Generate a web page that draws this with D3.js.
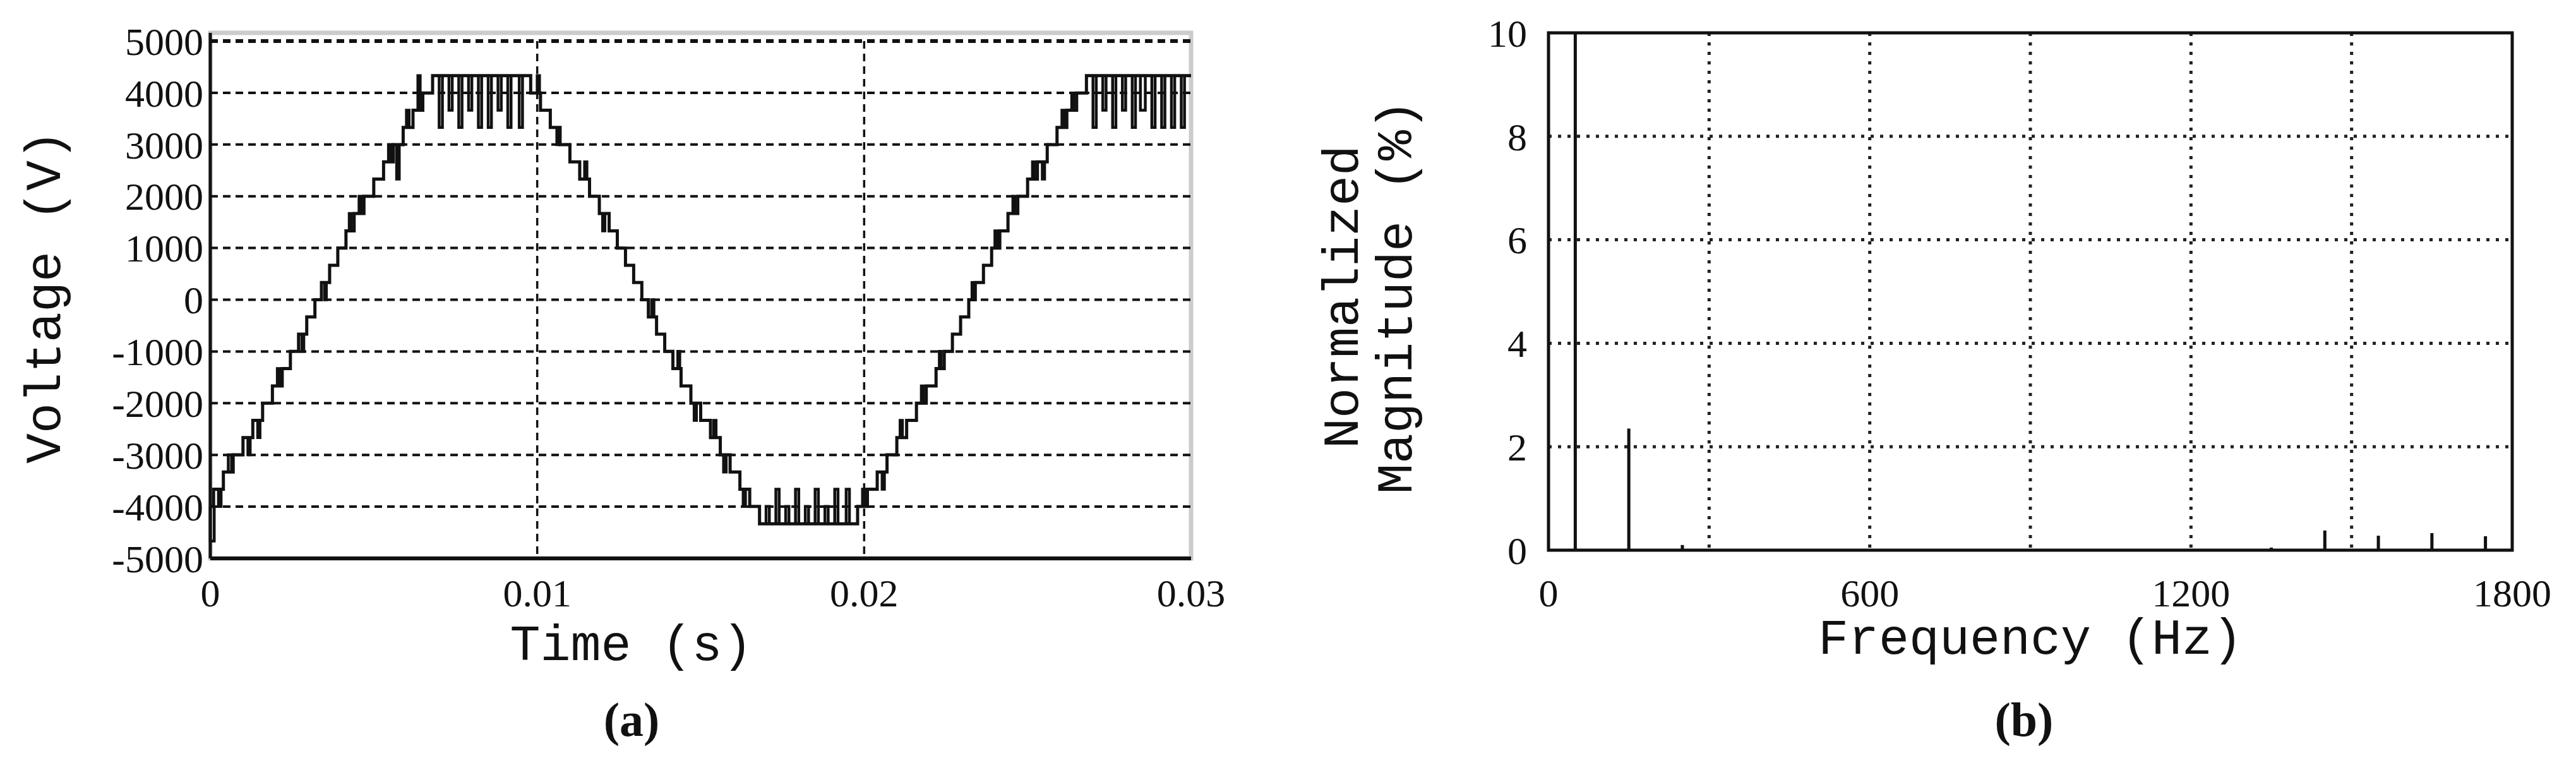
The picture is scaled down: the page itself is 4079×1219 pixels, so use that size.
<!DOCTYPE html>
<html>
<head>
<meta charset="utf-8">
<script src="https://d3js.org/d3.v7.min.js"></script>
<style>
  html, body { margin: 0; padding: 0; background: #fff; }
  svg { display: block; }
  text { fill: #111; }
  .tick-lbl { font: 62px "Liberation Serif", serif; }
  .axis-title { font: 80px "Liberation Mono", monospace; }
  .panel-lbl { font: bold 76px "Liberation Serif", serif; }
</style>
</head>
<body>
<svg width="4079" height="1219"></svg>
<script>
// ---- panel (a): staircase voltage, [time ms, level index]; one level ~ 333 V
const levelStep = 4330 / 13;
const stairs = [
  [0, -12], [0.1, -11], [0.4, -10], [0.7, -9], [1.0, -8], [1.3, -7], [1.6, -6], [1.9, -5],
  [2.2, -4], [2.45, -3], [2.7, -2], [2.95, -1], [3.2, 0], [3.4, 1], [3.65, 2], [3.9, 3],
  [4.15, 4], [4.4, 5], [4.7, 6], [5.0, 7], [5.3, 8], [5.6, 9], [5.9, 10], [6.2, 11],
  [6.5, 12], [6.8, 13],
  [9.8, 12], [10.1, 11], [10.4, 10], [10.7, 9], [11.0, 8], [11.3, 7], [11.6, 6], [11.9, 5],
  [12.2, 4], [12.45, 3], [12.7, 2], [12.95, 1], [13.2, 0], [13.4, -1], [13.65, -2], [13.9, -3],
  [14.15, -4], [14.4, -5], [14.7, -6], [15.0, -7], [15.3, -8], [15.6, -9], [15.9, -10], [16.2, -11],
  [16.5, -12], [16.8, -13],
  [19.8, -12], [20.1, -11], [20.4, -10], [20.7, -9], [21.0, -8], [21.3, -7], [21.6, -6], [21.9, -5],
  [22.2, -4], [22.45, -3], [22.7, -2], [22.95, -1], [23.2, 0], [23.4, 1], [23.65, 2], [23.9, 3],
  [24.15, 4], [24.4, 5], [24.7, 6], [25.0, 7], [25.3, 8], [25.6, 9], [25.9, 10], [26.2, 11],
  [26.5, 12], [26.8, 13], [30, 13]
];
// switching pulses: [start ms, end ms, base level, pulse level]
const pulses = [
  [0.0, 0.12, -12, -14], [0.25, 0.33, -11, -12], [0.55, 0.65, -10, -9], [1.15, 1.22, -8, -9],
  [1.45, 1.52, -7, -8], [2.05, 2.12, -5, -4], [2.8, 2.86, -2, -3], [3.5, 3.55, 1, 0],
  [4.25, 4.32, 4, 5], [4.55, 4.62, 5, 6], [5.45, 5.52, 8, 9], [5.7, 5.78, 9, 7],
  [6.0, 6.08, 10, 11], [6.35, 6.42, 11, 13],
  [7.0, 7.1, 13, 10], [7.3, 7.4, 13, 11], [7.6, 7.7, 13, 10], [7.9, 8.0, 13, 11], [8.2, 8.3, 13, 10],
  [8.5, 8.6, 13, 10], [8.8, 8.9, 13, 11], [9.1, 9.2, 13, 10], [9.45, 9.55, 13, 10],
  [10.0, 10.07, 12, 13], [10.6, 10.66, 10, 9], [11.45, 11.52, 7, 8], [12.0, 12.07, 5, 4],
  [13.5, 13.57, -1, 0], [14.3, 14.36, -4, -3], [14.8, 14.87, -6, -7], [15.4, 15.47, -8, -7],
  [15.7, 15.78, -9, -10], [16.3, 16.37, -11, -12],
  [17.0, 17.1, -13, -12], [17.3, 17.4, -13, -11], [17.6, 17.7, -13, -12], [17.9, 18.0, -13, -11],
  [18.2, 18.3, -13, -12], [18.5, 18.6, -13, -11], [18.8, 18.9, -13, -12], [19.1, 19.2, -13, -11],
  [19.45, 19.55, -13, -11],
  [19.95, 20.02, -12, -11], [20.55, 20.62, -10, -11], [21.1, 21.17, -8, -7], [21.75, 21.82, -6, -5],
  [22.3, 22.36, -4, -3], [23.3, 23.35, 0, 1], [24.0, 24.07, 3, 4], [24.55, 24.62, 5, 6],
  [25.15, 25.22, 7, 8], [25.45, 25.52, 8, 7], [26.05, 26.12, 10, 11], [26.35, 26.42, 11, 12],
  [27.0, 27.1, 13, 10], [27.3, 27.4, 13, 11], [27.6, 27.7, 13, 10], [27.9, 28.0, 13, 11],
  [28.2, 28.3, 13, 10], [28.45, 28.6, 13, 11], [28.8, 28.9, 13, 10], [29.1, 29.2, 13, 10],
  [29.4, 29.5, 13, 10], [29.7, 29.8, 13, 10]
];
const voltTicks = [5000, 4000, 3000, 2000, 1000, 0, -1000, -2000, -3000, -4000, -5000];
const timeTicks = [0, 0.01, 0.02, 0.03];
const timeLabels = ["0", "0.01", "0.02", "0.03"];

// ---- panel (b): harmonic spectrum
const freqs = [50, 150, 250, 1350, 1450, 1550, 1650, 1750];
const mags  = [100, 2.35, 0.1, 0.05, 0.38, 0.28, 0.33, 0.27];
const magTicks = [0, 2, 4, 6, 8, 10];
const freqTicks = [0, 600, 1200, 1800];
const freqGrid = [300, 600, 900, 1200, 1500];

const svg = d3.select("svg");

// ===== (a)
const ax = d3.scaleLinear().domain([0, 0.03]).range([333, 1886]);
const ay = d3.scaleLinear().domain([-5000, 5000]).range([884, 65]);
const ga = svg.append("g");

ga.append("rect").attr("x", 333).attr("y", 52).attr("width", 1553).attr("height", 832)
  .attr("fill", "none").attr("stroke", "#ccc").attr("stroke-width", 7);

ga.selectAll(".hg").data(voltTicks).join("line")
  .attr("x1", ax(0)).attr("x2", ax(0.03))
  .attr("y1", d => ay(d)).attr("y2", d => ay(d))
  .attr("stroke", "#111").attr("stroke-width", d => d === 5000 || d === -5000 ? 6 : 4)
  .attr("stroke-dasharray", d => d === -5000 ? null : "12,8");
ga.selectAll(".vg").data([0.01, 0.02]).join("line")
  .attr("x1", d => ax(d)).attr("x2", d => ax(d))
  .attr("y1", ay(5000)).attr("y2", ay(-5000))
  .attr("stroke", "#111").attr("stroke-width", 3.5).attr("stroke-dasharray", "12,8");
ga.append("line").attr("x1", ax(0)).attr("x2", ax(0)).attr("y1", 52).attr("y2", ay(-5000))
  .attr("stroke", "#111").attr("stroke-width", 5);

const stepLine = d3.line().curve(d3.curveStepAfter)
  .x(d => ax(d[0] / 1000)).y(d => ay(d[1] * levelStep));
ga.append("path").datum(stairs).attr("d", stepLine)
  .attr("fill", "none").attr("stroke", "#111").attr("stroke-width", 5);
const pulseLine = d3.line().x(d => ax(d[0] / 1000)).y(d => ay(d[1] * levelStep));
ga.selectAll(".pulse").data(pulses).join("path")
  .attr("d", p => pulseLine([[p[0], p[2]], [p[0], p[3]], [p[1], p[3]], [p[1], p[2]]]))
  .attr("fill", "none").attr("stroke", "#111").attr("stroke-width", 4.5);

ga.selectAll(".yl").data(voltTicks).join("text").attr("class", "tick-lbl")
  .attr("x", 322).attr("y", d => ay(d)).attr("dy", "0.35em").attr("text-anchor", "end")
  .text(d => d);
ga.selectAll(".xl").data(timeTicks).join("text").attr("class", "tick-lbl")
  .attr("x", d => ax(d)).attr("y", 960).attr("text-anchor", "middle")
  .text((d, i) => timeLabels[i]);
ga.append("text").attr("class", "axis-title").attr("x", ax(0.015) - 110).attr("y", 1045)
  .attr("text-anchor", "middle").text("Time (s)");
ga.append("text").attr("class", "axis-title")
  .attr("transform", "translate(95,470) rotate(-90)").attr("text-anchor", "middle")
  .text("Voltage (V)");
ga.append("text").attr("class", "panel-lbl").attr("x", 1000).attr("y", 1165)
  .attr("text-anchor", "middle").text("(a)");

// ===== (b)
const bx = d3.scaleLinear().domain([0, 1800]).range([2452, 3978]);
const by = d3.scaleLinear().domain([0, 10]).range([871, 52]);
const gb = svg.append("g");

gb.selectAll(".hg").data([2, 4, 6, 8]).join("line")
  .attr("x1", bx(0)).attr("x2", bx(1800)).attr("y1", d => by(d)).attr("y2", d => by(d))
  .attr("stroke", "#222").attr("stroke-width", 5).attr("stroke-dasharray", "5,10");
gb.selectAll(".vg").data(freqGrid).join("line")
  .attr("x1", d => bx(d)).attr("x2", d => bx(d)).attr("y1", by(10)).attr("y2", by(0))
  .attr("stroke", "#222").attr("stroke-width", 5).attr("stroke-dasharray", "5,10");
gb.append("rect").attr("x", bx(0)).attr("y", by(10)).attr("width", bx(1800) - bx(0))
  .attr("height", by(0) - by(10)).attr("fill", "none").attr("stroke", "#111").attr("stroke-width", 5);

gb.selectAll(".bar").data(freqs).join("line")
  .attr("x1", d => bx(d)).attr("x2", d => bx(d)).attr("y1", by(0))
  .attr("y2", (d, i) => by(Math.min(mags[i], 10)))
  .attr("stroke", "#111").attr("stroke-width", 5);

gb.selectAll(".yl").data(magTicks).join("text").attr("class", "tick-lbl")
  .attr("x", 2418).attr("y", d => by(d)).attr("dy", "0.35em").attr("text-anchor", "end")
  .text(d => d);
gb.selectAll(".xl").data(freqTicks).join("text").attr("class", "tick-lbl")
  .attr("x", d => bx(d)).attr("y", 960).attr("text-anchor", "middle").text(d => d);
gb.append("text").attr("class", "axis-title").attr("x", bx(900)).attr("y", 1035)
  .attr("text-anchor", "middle").text("Frequency (Hz)");
gb.append("text").attr("class", "axis-title")
  .attr("transform", "translate(2150,470) rotate(-90)").attr("text-anchor", "middle")
  .text("Normalized");
gb.append("text").attr("class", "axis-title")
  .attr("transform", "translate(2235,470) rotate(-90)").attr("text-anchor", "middle")
  .text("Magnitude (%)");
gb.append("text").attr("class", "panel-lbl").attr("x", 3205).attr("y", 1165)
  .attr("text-anchor", "middle").text("(b)");
</script>
</body>
</html>
